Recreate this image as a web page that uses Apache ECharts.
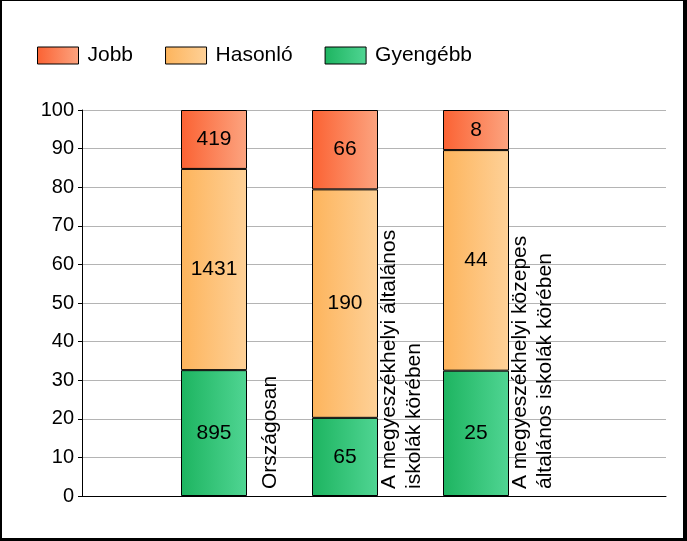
<!DOCTYPE html>
<html>
<head>
<meta charset="utf-8">
<script src="https://cdn.jsdelivr.net/npm/echarts@6/dist/echarts.min.js"></script>
<style>
html,body{margin:0;padding:0;background:#fff;}
#frame{position:absolute;left:0;top:0;width:687px;height:541px;box-sizing:border-box;border-style:solid;border-color:#000;border-width:1px 4px 3px 2px;}
#chart{position:absolute;left:0;top:0;width:687px;height:541px;}
</style>
</head>
<body>
<div id="chart"></div>
<div id="frame"></div>
<script>
// Data
const categories = ['Országosan', 'A megyeszékhelyi általános\niskolák körében', 'A megyeszékhelyi közepes\náltalános iskolák körében'];
const seriesNames = ['Jobb', 'Hasonló', 'Gyengébb'];
const jobb = [419, 66, 8];
const hasonlo = [1431, 190, 44];
const gyengebb = [895, 65, 25];
const yTicks = [0, 10, 20, 30, 40, 50, 60, 70, 80, 90, 100];

const colors = {
  'Jobb': ['#fb6233', '#fca480'],
  'Hasonló': ['#fdb45c', '#fed198'],
  'Gyengébb': ['#1db460', '#50d593']
};
function grad(name) {
  return new echarts.graphic.LinearGradient(0, 0, 1, 0, [
    { offset: 0, color: colors[name][0] },
    { offset: 1, color: colors[name][1] }
  ]);
}

const totals = categories.map((c, i) => jobb[i] + hasonlo[i] + gyengebb[i]);
const FONT = 'Liberation Sans, Arial, sans-serif';
const LABEL_SHIFT = 0.44;

function barSeries(name, counts) {
  return {
    name: name,
    type: 'bar',
    stack: 'all',
    xAxisIndex: 1, yAxisIndex: 1,
    barWidth: 66,
    itemStyle: { color: grad(name), borderColor: '#000', borderWidth: 1 },
    label: {
      show: true, position: 'inside', color: '#000',
      fontFamily: FONT, fontSize: 21,
      formatter: p => String(counts[p.dataIndex])
    },
    emphasis: { disabled: true },
    data: counts.map((v, i) => v / totals[i] * 100)
  };
}

const yBase = {
  type: 'value', min: yTicks[0], max: yTicks[yTicks.length - 1], interval: 10
};

const chart = echarts.init(document.getElementById('chart'), null, { renderer: 'canvas' });
chart.setOption({
  animation: false,
  backgroundColor: '#fff',
  legend: {
    left: 37, top: 45, padding: 0,
    itemWidth: 41, itemHeight: 17, itemGap: 32,
    icon: 'rect',
    data: seriesNames.map(n => ({ name: n, itemStyle: { color: grad(n), borderColor: '#000', borderWidth: 1 } })),
    textStyle: { fontFamily: FONT, fontSize: 21, color: '#000', padding: [0, 0, 0, 4] },
    selectedMode: false
  },
  grid: [
    { left: 82, right: 21, top: 110, bottom: 45, containLabel: false },
    { left: 148.5, right: 145.5, top: 110, bottom: 45, containLabel: false }
  ],
  xAxis: [
    {
      gridIndex: 0, type: 'value', min: 0, max: 4.46,
      axisLine: { show: true, lineStyle: { color: '#000', width: 1 } },
      axisTick: { show: false }, axisLabel: { show: false }, splitLine: { show: false }
    },
    {
      gridIndex: 1, type: 'category', data: categories,
      axisLine: { show: false }, axisTick: { show: false }, axisLabel: { show: false }, splitLine: { show: false }
    }
  ],
  yAxis: [
    Object.assign({}, yBase, {
      gridIndex: 0,
      axisLine: { show: true, lineStyle: { color: '#000', width: 1 } },
      axisTick: { show: true, length: 4, lineStyle: { color: '#000' } },
      axisLabel: { fontFamily: FONT, fontSize: 20, color: '#000', margin: 8 },
      splitLine: { show: true, lineStyle: { color: '#b4b4b4', width: 1 } }
    }),
    Object.assign({}, yBase, {
      gridIndex: 1,
      axisLine: { show: false }, axisTick: { show: false }, axisLabel: { show: false }, splitLine: { show: false }
    })
  ],
  series: [
    barSeries('Gyengébb', gyengebb),
    barSeries('Hasonló', hasonlo),
    barSeries('Jobb', jobb),
    {
      type: 'custom',
      xAxisIndex: 0, yAxisIndex: 0,
      silent: true,
      data: categories.map((c, i) => [i + 1 + LABEL_SHIFT, 0]),
      renderItem: function (params, api) {
        const pt = api.coord([api.value(0), api.value(1)]);
        return {
          type: 'text',
          x: pt[0], y: pt[1] - 7,
          rotation: Math.PI / 2,
          style: {
            text: categories[params.dataIndex],
            fontFamily: FONT, fontSize: 21, fill: '#000',
            textAlign: 'left', textVerticalAlign: 'middle',
            lineHeight: 25
          }
        };
      }
    }
  ]
});
</script>
</body>
</html>
